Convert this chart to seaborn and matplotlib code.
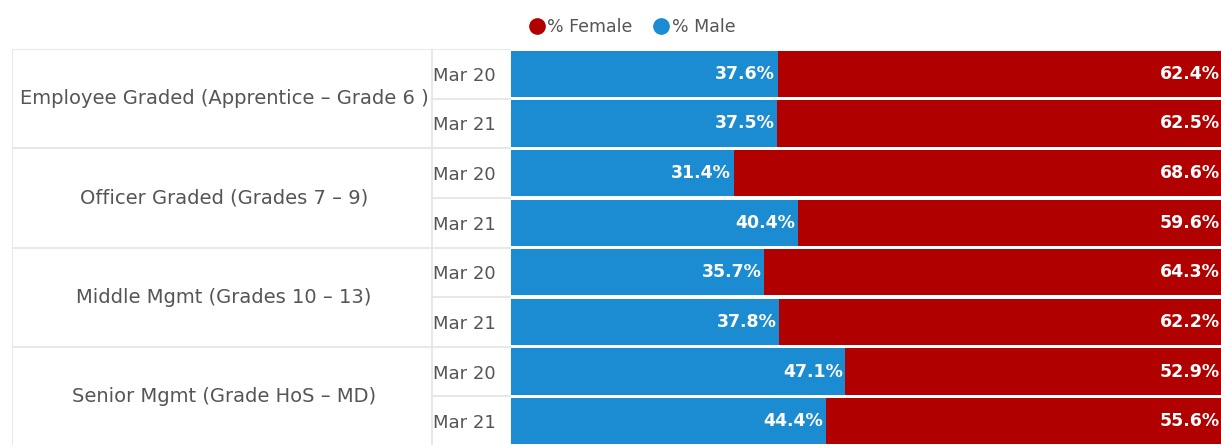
import pandas as pd
import matplotlib.pyplot as plt
import seaborn as sns
from matplotlib.lines import Line2D

# Data
groups = ["Employee Graded (Apprentice – Grade 6 )", "Officer Graded (Grades 7 – 9)",
          "Middle Mgmt (Grades 10 – 13)", "Senior Mgmt (Grade HoS – MD)"]
periods = ["Mar 20", "Mar 21"]
male = [37.6, 37.5, 31.4, 40.4, 35.7, 37.8, 47.1, 44.4]
female = [62.4, 62.5, 68.6, 59.6, 64.3, 62.2, 52.9, 55.6]

BLUE = "#1b8bd2"
RED = "#b00000"
GRID = "#e4e4e4"
TXT = "#555555"

rows = [f"{g} | {p}" for g in groups for p in periods]
df = pd.DataFrame({"row": rows, "male": male, "female": female})
df["total"] = df["male"] + df["female"]

sns.set_style("white")
plt.rcParams['font.family'] = ['DejaVu Sans']

W, H = 1221, 445
fig = plt.figure(figsize=(W / 100, H / 100), dpi=100)
top_px, bot_px = 49, 446
x0_px = 511
ax = fig.add_axes([x0_px / W, 1 - bot_px / H, (W - x0_px) / W, (bot_px - top_px) / H])
tax = fig.add_axes([12 / W, 1 - bot_px / H, (x0_px - 12) / W, (bot_px - top_px) / H], zorder=-1)

# stacked bars: full bar in red, male part in blue on top
sns.barplot(data=df, y="row", x="total", color=RED, orient="h", width=0.93,
            linewidth=0, saturation=1, ax=ax)
sns.barplot(data=df, y="row", x="male", color=BLUE, orient="h", width=0.93,
            linewidth=0, saturation=1, ax=ax)

ax.set_xlim(0, 100)
ax.set_ylim(len(rows) - 0.5, -0.5)
ax.set_xlabel("")
ax.set_ylabel("")
ax.set_xticks([])
ax.set_yticks(range(len(rows)))
ax.set_yticklabels([p for g in groups for p in periods], fontsize=13, color=TXT)
ax.tick_params(axis="y", length=0, pad=56)
for lab in ax.get_yticklabels():
    lab.set_ha("left")
for s in ax.spines.values():
    s.set_visible(False)

for i, (m, f) in enumerate(zip(male, female)):
    ax.annotate(f"{m:.1f}%", (m, i), xytext=(-2, 0), textcoords="offset points",
                ha="right", va="center", color="white", fontsize=12.5, fontweight="bold")
    ax.annotate(f"{f:.1f}%", (100, i), xytext=(-1, 0), textcoords="offset points",
                ha="right", va="center", color="white", fontsize=12.5, fontweight="bold")

# left table with group labels
tax.set_xlim(0, x0_px - 12)
tax.set_ylim(len(rows) - 0.5, -0.5)
tax.axis("off")
div = 432 - 12
tax.plot([0, 0], [-0.5, len(rows) - 0.5], color=GRID, lw=1.2)
tax.plot([div, div], [-0.5, len(rows) - 0.5], color=GRID, lw=1.2)
tax.plot([0, x0_px - 12], [-0.5, -0.5], color=GRID, lw=1.2)
for k, g in enumerate(groups):
    yc = 2 * k + 0.5
    tax.text(div / 2 + 2, yc, g, ha="center", va="center", fontsize=14, color=TXT)
    tax.plot([div, x0_px - 12], [yc, yc], color=GRID, lw=1.2)
    if k < len(groups) - 1:
        tax.plot([0, x0_px - 12], [2 * k + 1.5, 2 * k + 1.5], color=GRID, lw=1.2)

# legend
handles = [Line2D([], [], marker="o", ls="", color=RED, markersize=11),
           Line2D([], [], marker="o", ls="", color=BLUE, markersize=11)]
fig.legend(handles, ["% Female", "% Male"], loc="center", bbox_to_anchor=(632 / W, 1 - 27 / H),
           ncol=2, frameon=False, fontsize=12.5, handletextpad=0.15, columnspacing=1.2,
           handlelength=0.9, labelcolor=TXT)

fig.savefig("out.png", dpi=100)
